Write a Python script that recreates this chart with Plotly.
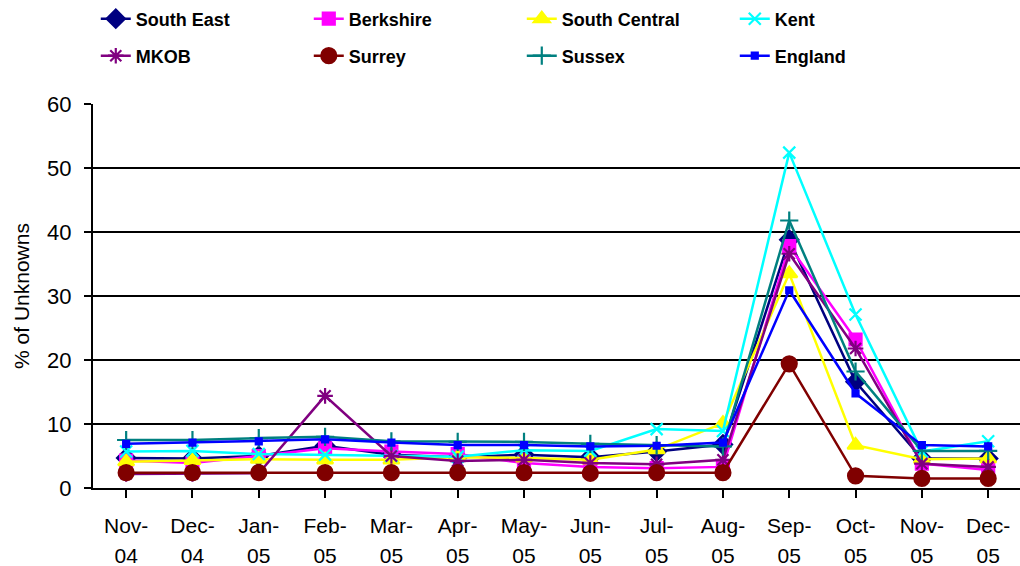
import plotly.graph_objects as go

months = ["Nov-", "Dec-", "Jan-", "Feb-", "Mar-", "Apr-", "May-", "Jun-", "Jul-",
          "Aug-", "Sep-", "Oct-", "Nov-", "Dec-"]
years = ["04", "04", "05", "05", "05", "05", "05", "05", "05", "05", "05", "05", "05", "05"]

south_east    = [4.7, 4.6, 5.0, 6.6, 5.2, 4.8, 5.2, 4.8, 5.7, 6.8, 38.8, 16.6, 4.6, 4.6]
berkshire     = [4.3, 3.9, 5.0, 6.2, 5.7, 5.3, 3.9, 3.3, 3.1, 3.3, 37.8, 23.2, 3.8, 2.8]
south_central = [4.1, 4.3, 4.5, 4.4, 4.4, 4.8, 4.7, 4.4, 6.0, 10.1, 33.5, 6.7, 4.5, 4.6]
kent          = [5.7, 5.8, 5.3, 5.2, 5.0, 4.9, 5.9, 5.8, 9.2, 8.9, 52.4, 27.1, 5.7, 7.3]
mkob          = [2.2, 2.2, 2.3, 14.4, 5.0, 4.2, 4.4, 3.9, 3.7, 4.4, 36.6, 21.8, 3.8, 3.3]
surrey        = [2.4, 2.4, 2.4, 2.4, 2.4, 2.4, 2.4, 2.3, 2.4, 2.4, 19.4, 1.9, 1.5, 1.5]
sussex        = [7.5, 7.5, 7.8, 8.0, 7.3, 7.2, 7.2, 6.9, 6.7, 6.5, 41.8, 18.2, 5.8, 5.8]
england       = [6.9, 7.1, 7.3, 7.6, 7.1, 6.7, 6.7, 6.5, 6.6, 7.1, 30.9, 14.8, 6.7, 6.5]

series = [
    ("South East", south_east, "#000080", "diamond", 14, "legend"),
    ("Berkshire", berkshire, "#FF00FF", "square", 12, "legend"),
    ("South Central", south_central, "#FFFF00", "triangle-up", 14, "legend"),
    ("Kent", kent, "#00FFFF", "x-thin-open", 12, "legend"),
    ("MKOB", mkob, "#800080", "asterisk-open", 13, "legend2"),
    ("Surrey", surrey, "#800000", "circle", 15, "legend2"),
    ("Sussex", sussex, "#008080", "cross-thin-open", 13, "legend2"),
    ("England", england, "#0000FF", "square", 6, "legend2"),
]

idx = list(range(len(months)))

fig = go.Figure()
for name, vals, color, sym, size, leg in series:
    fig.add_trace(go.Scatter(
        x=idx, y=vals, name=name, mode="lines+markers",
        line=dict(color=color, width=2.5),
        marker=dict(symbol=sym, size=size, color=color,
                    line=dict(color=color, width=2.2)),
        legend=leg,
    ))

# invisible trace that carries the second row of category labels (years)
fig.add_trace(go.Scatter(x=idx, y=[None] * len(idx), xaxis="x2", showlegend=False,
                         hoverinfo="skip"))

legend_style = dict(
    orientation="h", xref="paper", yref="container", x=0.003, xanchor="left",
    yanchor="middle", entrywidth=168, entrywidthmode="pixels",
    font=dict(family="Liberation Sans, Arial", size=18, color="black", weight="bold"),
    bgcolor="rgba(0,0,0,0)", itemclick=False,
)

x_common = dict(range=[-0.5, 13.48], tickmode="array", tickvals=idx,
                tickfont=dict(size=21), zeroline=False, showgrid=False)

fig.update_layout(
    width=1020, height=566,
    margin=dict(l=93, r=0, t=104, b=78),
    paper_bgcolor="white", plot_bgcolor="white",
    font=dict(family="Liberation Sans, Arial", color="black"),
    legend=dict(legend_style, y=1 - 19 / 566),
    legend2=dict(legend_style, y=1 - 56 / 566),
    xaxis=dict(
        x_common, ticktext=months,
        showline=True, linecolor="black", linewidth=2,
        ticks="outside", tickson="boundaries", ticklen=8, tickwidth=2, tickcolor="black",
        ticklabelstandoff=10,
    ),
    xaxis2=dict(
        x_common, ticktext=years, overlaying="x", side="bottom", anchor="y",
        showline=False, ticks="", ticklabelstandoff=53,
    ),
    yaxis=dict(
        range=[0, 60], tickvals=[0, 10, 20, 30, 40, 50, 60],
        showgrid=True, gridcolor="black", gridwidth=2,
        showline=True, linecolor="black", linewidth=2,
        ticks="outside", ticklen=7, tickwidth=2, tickcolor="black",
        ticklabelstandoff=8,
        tickfont=dict(size=22), zeroline=False,
        title=dict(text="% of Unknowns", font=dict(size=21), standoff=12),
    ),
)

fig.write_html("out.html")
